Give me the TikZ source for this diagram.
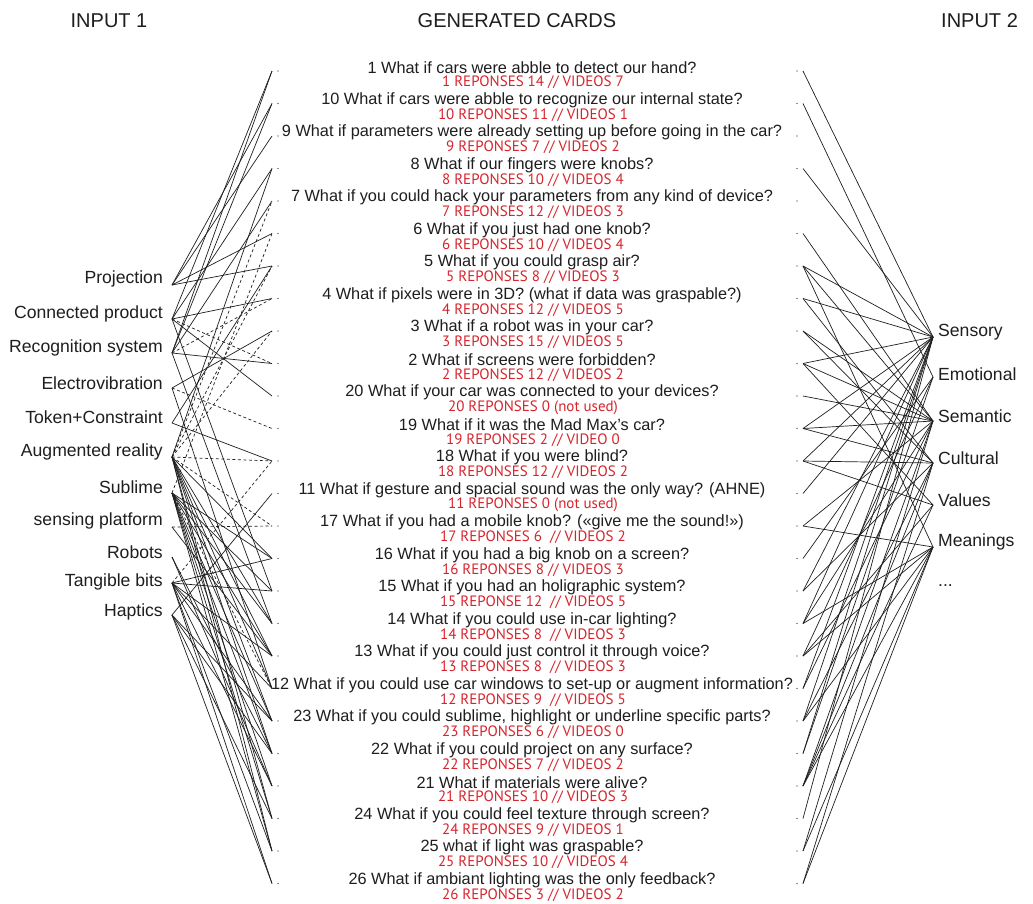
\documentclass[tikz,border=0pt]{standalone}
\usepackage{fontspec}
\setmainfont{Liberation Sans}
\newfontfamily\redfont{PT Sans}
\definecolor{cardred}{RGB}{214,36,44}
\definecolor{ink}{RGB}{30,30,30}
\begin{document}
\begin{tikzpicture}[x=1pt,y=-1pt,
  q/.style={font=\fontsize{16.3}{16.3}\selectfont,text=ink,inner sep=0pt,anchor=center},
  rr/.style={font=\redfont\fontsize{15}{15}\selectfont,text=cardred,inner sep=0pt,anchor=center},
  lab/.style={font=\fontsize{17.6}{17.6}\selectfont,text=ink,inner sep=0pt},
  head/.style={font=\fontsize{20}{20}\selectfont,text=ink,inner sep=0pt},
  dot/.style={circle,fill=ink,inner sep=0pt,minimum size=1.3pt},
  link/.style={draw=ink,line width=0.7pt},
  dlink/.style={draw=ink,line width=0.7pt,dash pattern=on 3pt off 2.5pt}]
\useasboundingbox (0,0) rectangle (1033,903);
\fill[white] (0,0) rectangle (1033,903);

% headers
\node[head] (h1) at (109,21) {INPUT 1};
\node[head] (h2) at (517,21) {GENERATED CARDS};
\node[head,anchor=west] (h3) at (941,21) {INPUT 2};

% left concepts
\node[lab,anchor=east] (nP) at (163,279) {Projection};
\node[lab,anchor=east] (nC) at (163,314) {Connected product};
\node[lab,anchor=east] (nR) at (163,348) {Recognition system};
\node[lab,anchor=east] (nE) at (163,383) {Electrovibration};
\node[lab,anchor=east] (nT) at (163,417) {Token+Constraint};
\node[lab,anchor=east] (nA) at (163,452) {Augmented reality};
\node[lab,anchor=east] (nS) at (163,487) {Sublime};
\node[lab,anchor=east] (nSP) at (163,521) {sensing platform};
\node[lab,anchor=east] (nRo) at (163,552) {Robots};
\node[lab,anchor=east] (nTB) at (163,582) {Tangible bits};
\node[lab,anchor=east] (nH) at (163,612) {Haptics};
\coordinate (lP) at (172,285);
\coordinate (lC) at (172,319);
\coordinate (lR) at (172,353);
\coordinate (lE) at (172,388);
\coordinate (lT) at (172,423);
\coordinate (lA) at (172,457);
\coordinate (lS) at (172,493);
\coordinate (lSP) at (172,527);
\coordinate (lRo) at (172,557);
\coordinate (lTB) at (172,583);
\coordinate (lH) at (172,615);

% right concepts
\node[lab,anchor=west] (mSe) at (938,332) {Sensory};
\node[lab,anchor=west] (mEm) at (938,374) {Emotional};
\node[lab,anchor=west] (mSm) at (938,416) {Semantic};
\node[lab,anchor=west] (mCu) at (938,458) {Cultural};
\node[lab,anchor=west] (mVa) at (938,500) {Values};
\node[lab,anchor=west] (mMe) at (938,542) {Meanings};
\node[lab,anchor=west] (mDots) at (938,586) {...};
\coordinate (rSe) at (933,337);
\coordinate (rEm) at (933,377);
\coordinate (rSm) at (933,421);
\coordinate (rCu) at (933,463);
\coordinate (rVa) at (933,505);
\coordinate (rMe) at (933,547);

% card dots
\foreach \k in {0,...,25}{
  \pgfmathsetmacro\yy{71+32.5*\k}
  \node[dot] (ld\k) at (278,\yy) {};
  \coordinate (le\k) at (272,\yy);
  \node[dot] (rd\k) at (797,\yy) {};
  \coordinate (re\k) at (803,\yy);
}

% cards
\foreach \k/\qt/\rt in {
 0/{1 What if cars were abble to detect our hand?}/{1 REPONSES 14 // VIDEOS 7},
 1/{10 What if cars were abble to recognize our internal state?}/{10 REPONSES 11 // VIDEOS 1},
 2/{9 What if parameters were already setting up before going in the car?}/{9 REPONSES 7 // VIDEOS 2},
 3/{8 What if our fingers were knobs?}/{8 REPONSES 10 // VIDEOS 4},
 4/{7 What if you could hack your parameters from any kind of device?}/{7 REPONSES 12 // VIDEOS 3},
 5/{6 What if you just had one knob?}/{6 REPONSES 10 // VIDEOS 4},
 6/{5 What if you could grasp air?}/{5 REPONSES 8 // VIDEOS 3},
 7/{4 What if pixels were in 3D? (what if data was graspable?)}/{4 REPONSES 12 // VIDEOS 5},
 8/{3 What if a robot was in your car?}/{3 REPONSES 15 // VIDEOS 5},
 9/{2 What if screens were forbidden?}/{2 REPONSES 12 // VIDEOS 2},
 10/{20 What if your car was connected to your devices?}/{20 REPONSES 0 (not used)},
 11/{19 What if it was the Mad Max’s car?}/{19 REPONSES 2 // VIDEO 0},
 12/{18 What if you were blind?}/{18 REPONSES 12 // VIDEOS 2},
 13/{11 What if gesture and spacial sound was the only way? (AHNE)}/{11 REPONSES 0 (not used)},
 14/{17 What if you had a mobile knob? («give me the sound!»)}/{17 REPONSES 6 \ // VIDEOS 2},
 15/{16 What if you had a big knob on a screen?}/{16 REPONSES 8 // VIDEOS 3},
 16/{15 What if you had an holigraphic system?}/{15 REPONSE 12 \ // VIDEOS 5},
 17/{14 What if you could use in-car lighting?}/{14 REPONSES 8 \ // VIDEOS 3},
 18/{13 What if you could just control it through voice?}/{13 REPONSES 8 \ // VIDEOS 3},
 19/{12 What if you could use car windows to set-up or augment information?}/{12 REPONSES 9 \ // VIDEOS 5},
 20/{23 What if you could sublime, highlight or underline specific parts?}/{23 REPONSES 6 // VIDEOS 0},
 21/{22 What if you could project on any surface?}/{22 REPONSES 7 // VIDEOS 2},
 22/{21 What if materials were alive?}/{21 REPONSES 10 // VIDEOS 3},
 23/{24 What if you could feel texture through screen?}/{24 REPONSES 9 // VIDEOS 1},
 24/{25 what if light was graspable?}/{25 REPONSES 10 // VIDEOS 4},
 25/{26 What if ambiant lighting was the only feedback?}/{26 REPONSES 3 // VIDEOS 2}}{
  \pgfmathsetmacro\yq{67.3+32.5*\k}
  \pgfmathsetmacro\yr{82.6+32.5*\k}
  \node[q] (q\k) at (532,\yq) {\qt};
  \node[rr] (r\k) at (533,\yr) {\rt};
}

% left links (solid)
\foreach \k/\c in {0/C,0/R,1/P,1/R,2/P,3/C,3/A,4/R,5/P,6/T,6/P,7/C,8/E,9/R,10/C,12/T,13/H,
  15/S,15/TB,15/A,16/S,16/C,16/TB,17/A,17/R,17/S,18/S,18/A,18/SP,18/TB,19/A,19/E,19/TB,
  20/S,20/A,20/TB,20/H,21/A,21/S,21/H,21/Ro,22/S,22/TB,22/Ro,23/A,23/S,23/H,24/TB,24/S,24/A,25/TB,25/H}
  \draw[link] (l\c) -- (le\k);
% left links (dashed)
\foreach \k/\c in {4/A,5/S,6/A,7/R,8/A,9/C,11/E,12/A,14/SP,14/A,19/S,12/TB}
  \draw[dlink] (l\c) -- (le\k);

% right links
\foreach \k/\c in {0/Se,1/Em,3/Se,5/Sm,6/Se,6/Sm,6/Me,7/Se,7/Cu,8/Sm,8/Cu,9/Se,9/Sm,9/Va,
  10/Sm,11/Se,11/Sm,11/Cu,12/Se,12/Cu,12/Va,13/Se,14/Me,14/Sm,15/Em,16/Se,16/Cu,
  17/Me,17/Sm,17/Se,18/Me,18/Va,18/Em,19/Sm,19/Se,20/Se,20/Cu,20/Me,21/Se,21/Em,
  22/Sm,22/Cu,22/Va,22/Me,23/Se,24/Sm,24/Me,25/Cu,25/Me}
  \draw[link] (re\k) -- (r\c);
\end{tikzpicture}
\end{document}
